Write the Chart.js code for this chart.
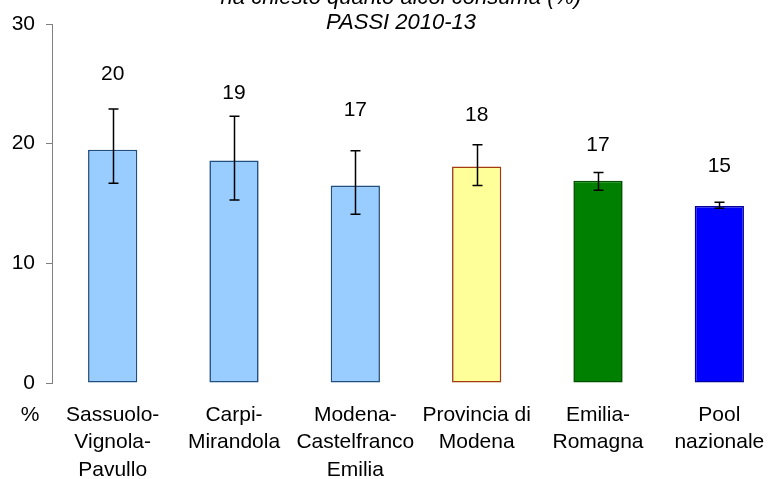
<!DOCTYPE html>
<html>
<head>
<meta charset="utf-8">
<script src="https://cdn.jsdelivr.net/npm/chart.js@4.4.1/dist/chart.umd.min.js"></script>
<style>
  html, body { margin: 0; padding: 0; background: #ffffff; overflow: hidden; }
  #wrap { position: relative; width: 800px; height: 479px; }
</style>
</head>
<body>
<div id="wrap"><canvas id="c"></canvas></div>
<script>
// ---- data ----
const categories = [
  ['Sassuolo-', 'Vignola-', 'Pavullo'],
  ['Carpi-', 'Mirandola'],
  ['Modena-', 'Castelfranco', 'Emilia'],
  ['Provincia di', 'Modena'],
  ['Emilia-', 'Romagna'],
  ['Pool', 'nazionale']
];
const values = [19.5, 18.6, 16.5, 18.1, 16.9, 14.8];
const valueLabels = ['20', '19', '17', '18', '17', '15'];
const ciLow = [16.7, 15.3, 14.1, 16.5, 16.1, 14.6];
const ciHigh = [22.9, 22.3, 19.4, 19.9, 17.6, 15.1];
const valueLabelAt = [25.8, 24.2, 22.8, 22.4, 19.9, 18.1];
const yTicks = [0, 10, 20, 30];
const titleLines = ['ha chiesto quanto alcol consuma (%)', 'PASSI 2010-13'];
const axisUnit = '%';

// ---- styles ----
const fillColors = ['#99ccff', '#99ccff', '#99ccff', '#ffff99', '#008000', '#0000ff'];
const borderColors = ['#1f4f80', '#1f4f80', '#1f4f80', '#a33a10', '#005000', '#00009a'];
const FONT = "'Liberation Sans', Arial, Helvetica, sans-serif";

const overlay = {
  id: 'overlay',
  afterDatasetsDraw(chart) {
    const ctx = chart.ctx;
    const y = chart.scales.y;
    const meta = chart.getDatasetMeta(0);
    ctx.save();
    // error bars
    ctx.strokeStyle = '#000000';
    ctx.lineWidth = 1.5;
    meta.data.forEach((bar, i) => {
      const x = Math.round(bar.x) + 0.5;
      const yh = y.getPixelForValue(ciHigh[i]);
      const yl = y.getPixelForValue(ciLow[i]);
      ctx.beginPath();
      ctx.moveTo(x, yh); ctx.lineTo(x, yl);
      ctx.moveTo(x - 5, yh); ctx.lineTo(x + 5, yh);
      ctx.moveTo(x - 5, yl); ctx.lineTo(x + 5, yl);
      ctx.stroke();
    });
    // value labels
    ctx.fillStyle = '#000000';
    ctx.font = '21px ' + FONT;
    ctx.textAlign = 'center';
    ctx.textBaseline = 'middle';
    meta.data.forEach((bar, i) => {
      ctx.fillText(valueLabels[i], bar.x, y.getPixelForValue(valueLabelAt[i]));
    });
    // title
    ctx.font = 'italic 22px ' + FONT;
    ctx.textBaseline = 'alphabetic';
    ctx.fillText(titleLines[0], 401, 4);
    ctx.fillText(titleLines[1], 401, 28.5);
    // unit label
    ctx.font = '21px ' + FONT;
    ctx.textBaseline = 'middle';
    ctx.fillText(axisUnit, 30, 415);
    ctx.restore();
  }
};

new Chart(document.getElementById('c'), {
  type: 'bar',
  data: {
    labels: categories,
    datasets: [{
      data: values,
      backgroundColor: fillColors,
      borderColor: borderColors,
      borderWidth: 1.6,
      borderSkipped: false,
      barPercentage: 0.406,
      categoryPercentage: 1.0
    }]
  },
  options: {
    responsive: true,
    maintainAspectRatio: false,
    animation: false,
    layout: { padding: { left: 0, right: 20, top: 24, bottom: 0 } },
    plugins: { legend: { display: false }, tooltip: { enabled: false }, title: { display: false } },
    scales: {
      x: {
        grid: { display: false, drawTicks: false },
        border: { display: false },
        ticks: {
          color: '#000000',
          font: { family: FONT, size: 21, lineHeight: 1.31 },
          padding: 18,
          maxRotation: 0,
          autoSkip: false
        },
        afterFit(scale) { scale.height = 96; }
      },
      y: {
        min: 0, max: 30,
        afterBuildTicks(scale) { scale.ticks = yTicks.map(v => ({ value: v })); },
        grid: { drawOnChartArea: false, drawTicks: true, tickLength: 6, color: '#808080', lineWidth: 1 },
        border: { display: true, color: '#808080', width: 1 },
        ticks: {
          color: '#000000',
          font: { family: FONT, size: 21 },
          padding: 11
        },
        afterFit(scale) { scale.width = 52; }
      }
    }
  },
  plugins: [overlay]
});
</script>
</body>
</html>
